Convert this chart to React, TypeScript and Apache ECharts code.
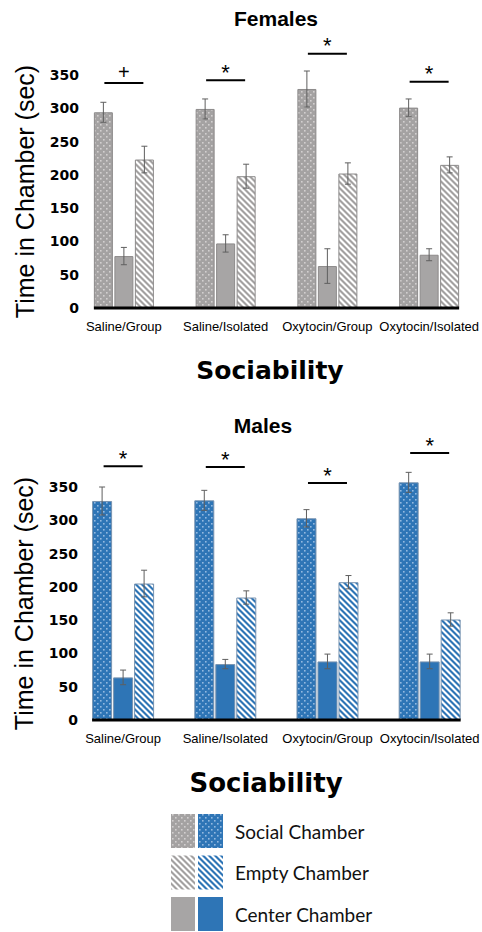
import React, { useEffect, useRef } from "react";
import * as echarts from "echarts";

const categories = ["Saline/Group", "Saline/Isolated", "Oxytocin/Group", "Oxytocin/Isolated"];
const yMax = 350;
const yInterval = 50;

const femaleSocial = [294, 299, 329, 301];
const femaleSocialErr = [15, 15, 27, 13];
const femaleCenter = [78, 97, 63, 80];
const femaleCenterErr = [13, 13, 26, 9];
const femaleEmpty = [223, 198, 202, 215];
const femaleEmptyErr = [20, 18, 16, 12];
const femaleSig = [338, 342, 382, 340];
const femaleSigMark = ["+", "*", "*", "*"];

const maleSocial = [329, 330, 303, 357];
const maleSocialErr = [21, 15, 13, 15];
const maleCenter = [64, 84, 88, 88];
const maleCenterErr = [11, 7, 11, 11];
const maleEmpty = [205, 184, 207, 151];
const maleEmptyErr = [20, 10, 10, 10];
const maleSig = [381, 380, 356, 401];
const maleSigMark = ["*", "*", "*", "*"];

const legendLabels = ["Social Chamber", "Empty Chamber", "Center Chamber"];

const GRAY = "#a7a5a5";
const BLUE = "#2e75b6";

function makePattern(size: number, draw: (ctx: CanvasRenderingContext2D) => void) {
  const c = document.createElement("canvas");
  c.width = size;
  c.height = size;
  const ctx = c.getContext("2d")!;
  draw(ctx);
  return { image: c, repeat: "repeat", imageWidth: size, imageHeight: size } as any;
}

function dots(base: string, dot: string) {
  return makePattern(6, (ctx) => {
    ctx.fillStyle = base;
    ctx.fillRect(0, 0, 6, 6);
    ctx.fillStyle = dot;
    ctx.fillRect(1, 1, 1.6, 1.6);
    ctx.fillRect(4, 4, 1.6, 1.6);
  });
}

function stripes(color: string) {
  return makePattern(6, (ctx) => {
    ctx.fillStyle = "#ffffff";
    ctx.fillRect(0, 0, 6, 6);
    ctx.fillStyle = color;
    for (const a of [-12, -6, 0, 6]) {
      ctx.beginPath();
      ctx.moveTo(a, 0);
      ctx.lineTo(a + 3, 0);
      ctx.lineTo(a + 9, 6);
      ctx.lineTo(a + 6, 6);
      ctx.closePath();
      ctx.fill();
    }
  });
}

export default function App() {
  const ref = useRef<HTMLDivElement>(null);
  useEffect(() => {
    document.body.style.margin = "0";
    const chart = echarts.init(ref.current!, null, { renderer: "svg" });

    const grayDots = dots("#a4a2a2", "#d2d0d0");
    const blueDots = dots(BLUE, "#93b9e0");
    const grayStripes = stripes("#a3a1a1");
    const blueStripes = stripes(BLUE);

    const panels = [
      {
        social: femaleSocial, socialErr: femaleSocialErr,
        center: femaleCenter, centerErr: femaleCenterErr,
        empty: femaleEmpty, emptyErr: femaleEmptyErr,
        sig: femaleSig, sigMark: femaleSigMark,
        fills: [grayDots, GRAY, grayStripes], border: "#8c8a8a",
        barW: 19, gapPx: 1.5,
      },
      {
        social: maleSocial, socialErr: maleSocialErr,
        center: maleCenter, centerErr: maleCenterErr,
        empty: maleEmpty, emptyErr: maleEmptyErr,
        sig: maleSig, sigMark: maleSigMark,
        fills: [blueDots, BLUE, blueStripes], border: "#7893b0",
        barW: 20, gapPx: 1,
      },
    ];

    const series: any[] = [];
    panels.forEach((p, gi) => {
      const vals = [p.social, p.center, p.empty];
      const errs = [p.socialErr, p.centerErr, p.emptyErr];
      const names = ["Social Chamber", "Center Chamber", "Empty Chamber"];
      const step = p.barW + p.gapPx;
      vals.forEach((v, si) => {
        series.push({
          type: "bar",
          name: names[si],
          xAxisIndex: gi,
          yAxisIndex: gi,
          data: v,
          clip: false,
          barWidth: p.barW,
          barGap: (p.gapPx / p.barW) * 100 + "%",
          itemStyle: { color: p.fills[si], borderColor: p.border, borderWidth: 1 },
          z: 2,
        });
      });
      vals.forEach((v, si) => {
        const offset = (si - 1) * step;
        series.push({
          type: "custom",
          xAxisIndex: gi,
          yAxisIndex: gi,
          z: 4,
          silent: true,
          clip: false,
          data: v.map((val, i) => [i, val, errs[si][i]]),
          encode: { x: 0, y: 1 },
          renderItem: (_params: any, api: any) => {
            const i = api.value(0);
            const val = api.value(1);
            const e = api.value(2);
            const hi = api.coord([i, val + e]);
            const lo = api.coord([i, val - e]);
            const x = hi[0] + offset;
            const st = { stroke: "#5f5f5f", lineWidth: 1 };
            return {
              type: "group",
              children: [
                { type: "line", shape: { x1: x, y1: hi[1], x2: x, y2: lo[1] }, style: st },
                { type: "line", shape: { x1: x - 3, y1: hi[1], x2: x + 3, y2: hi[1] }, style: st },
                { type: "line", shape: { x1: x - 3, y1: lo[1], x2: x + 3, y2: lo[1] }, style: st },
              ],
            };
          },
        });
      });
      // significance markers
      series.push({
        type: "custom",
        xAxisIndex: gi,
        yAxisIndex: gi,
        z: 5,
        silent: true,
        clip: false,
        data: p.sig.map((val, i) => [i, val]),
        encode: { x: 0, y: 1 },
        renderItem: (params: any, api: any) => {
          const i = api.value(0);
          const pt = api.coord([i, api.value(1)]);
          const mark = p.sigMark[params.dataIndex];
          return {
            type: "group",
            children: [
              { type: "line", shape: { x1: pt[0] - 19.5, y1: pt[1], x2: pt[0] + 19.5, y2: pt[1] }, style: { stroke: "#000", lineWidth: 2 } },
              {
                type: "text",
                style: {
                  text: mark,
                  x: pt[0],
                  y: mark === "*" ? pt[1] - 8 : pt[1] - 11,
                  textAlign: "center",
                  textVerticalAlign: "middle",
                  fill: "#000",
                  font: mark === "*" ? "22px 'Liberation Sans', Arial, sans-serif" : "20px 'Liberation Sans', Arial, sans-serif",
                },
              },
            ],
          };
        },
      });
      // baseline
      series.push({
        type: "custom",
        xAxisIndex: gi,
        yAxisIndex: gi,
        z: 6,
        silent: true,
        clip: false,
        data: [[0, 0]],
        encode: { x: 0, y: 1 },
        renderItem: (_params: any, api: any) => {
          const a = api.coord([0, 0]);
          const b = api.coord([categories.length - 1, 0]);
          const hw = 1.5 * p.barW + p.gapPx;
          return { type: "line", shape: { x1: a[0] - hw, y1: a[1], x2: b[0] + hw, y2: a[1] }, style: { stroke: "#000", lineWidth: 3 } };
        },
      });
    });

    const xAxisBase = {
      type: "category",
      data: categories,
      axisLine: { show: false },
      axisTick: { show: false },
      splitLine: { show: false },
      axisLabel: {
        interval: 0,
        margin: 12,
        fontSize: 13,
        color: "#000",
        fontFamily: "'Liberation Sans', Arial, sans-serif",
      },
    };
    const yAxisBase = {
      type: "value",
      min: 0,
      max: yMax,
      interval: yInterval,
      offset: -14,
      axisLine: { show: false },
      axisTick: { show: false },
      splitLine: { show: false },
      axisLabel: { margin: 8, fontSize: 14, fontWeight: "bold", color: "#000", fontFamily: "'DejaVu Sans', sans-serif" },
      name: "Time in Chamber (sec)",
      nameLocation: "middle",
      nameGap: 50,
      nameTextStyle: { fontSize: 25, color: "#000", fontFamily: "'Liberation Sans', Arial, sans-serif" },
    };

    const titleFont = "bold 21px 'Liberation Sans', Arial, sans-serif";
    const socFont = "bold 25px 'DejaVu Sans', sans-serif";
    const legendFills = [
      [grayDots, blueDots],
      [grayStripes, blueStripes],
      [GRAY, BLUE],
    ];
    const graphic: any[] = [
      { type: "text", x: 276, y: 18, style: { text: "Females", font: titleFont, fill: "#000", textAlign: "center", textVerticalAlign: "middle" } },
      { type: "text", x: 263, y: 425, style: { text: "Males", font: titleFont, fill: "#000", textAlign: "center", textVerticalAlign: "middle" } },
      { type: "text", x: 270, y: 370, style: { text: "Sociability", font: socFont, fill: "#000", textAlign: "center", textVerticalAlign: "middle" } },
      { type: "text", x: 266, y: 783, style: { text: "Sociability", font: "bold 26px 'DejaVu Sans', sans-serif", fill: "#000", textAlign: "center", textVerticalAlign: "middle" } },
    ];
    legendLabels.forEach((lab, i) => {
      const y0 = 814 + i * 41.5;
      graphic.push({ type: "rect", shape: { x: 171, y: y0, width: 24, height: 34 }, style: { fill: legendFills[i][0] } });
      graphic.push({ type: "rect", shape: { x: 198, y: y0, width: 25, height: 34 }, style: { fill: legendFills[i][1] } });
      graphic.push({ type: "text", x: 235, y: y0 + 17, style: { text: lab, font: "19px Lato, 'Open Sans', sans-serif", fill: "#111", textAlign: "left", textVerticalAlign: "middle" } });
    });

    chart.setOption({
      animation: false,
      backgroundColor: "#fff",
      grid: [
        { left: 73, top: 75, width: 407, height: 233 },
        { left: 72, top: 487, width: 413, height: 233 },
      ],
      xAxis: [
        { ...xAxisBase, gridIndex: 0 },
        { ...xAxisBase, gridIndex: 1 },
      ],
      yAxis: [
        { ...yAxisBase, gridIndex: 0 },
        { ...yAxisBase, gridIndex: 1 },
      ],
      series,
      graphic,
    } as any);

    return () => chart.dispose();
  }, []);
  return <div ref={ref} style={{ width: 482, height: 932 }} />;
}
